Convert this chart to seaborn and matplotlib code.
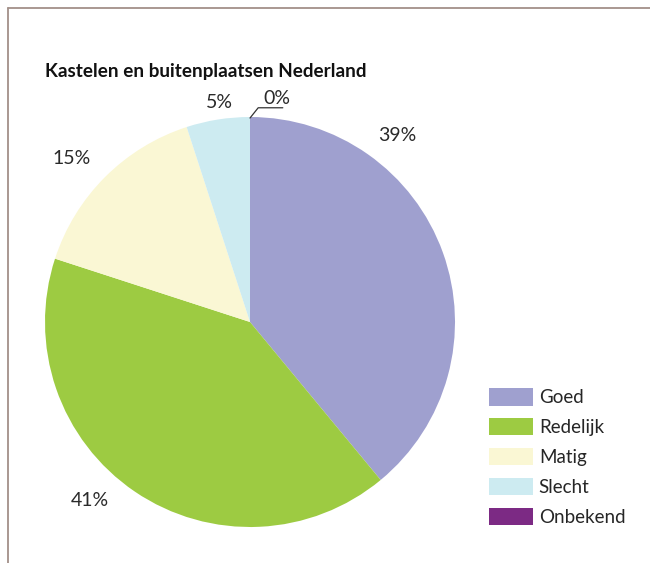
import matplotlib
matplotlib.use("Agg")
import matplotlib.pyplot as plt
from matplotlib.lines import Line2D
import seaborn as sns

# data
categories = ["Goed", "Redelijk", "Matig", "Slecht", "Onbekend"]
values = [39, 41, 15, 5, 0]
pct_labels = ["39%", "41%", "15%", "5%", "0%"]
colors = ["#9fa0cf", "#9dcb42", "#faf7d4", "#cdebf1", "#7c2a84"]

# label spots around the pie (pie radius = 1)
label_pos = [(0.72, 0.91), (-0.78, -0.87), (-0.87, 0.80), (-0.15, 1.07), (0.13, 1.09)]

sns.set_theme(style="white")
plt.rcParams["font.family"] = ["Lato", "DejaVu Sans"]

fig = plt.figure(figsize=(6.5, 5.63), dpi=100)

# frame lines (left + top)
fig.add_artist(Line2D([8 / 650, 8 / 650], [0, 1 - 8 / 563], color="#a39089", lw=1.3))
fig.add_artist(Line2D([8 / 650, 1], [1 - 8 / 563, 1 - 8 / 563], color="#a39089", lw=1.3))

fig.text(45 / 650, 1 - 71 / 563, "Kastelen en buitenplaatsen Nederland",
         fontsize=13.6, fontweight="bold", color="#111111", va="center", ha="left")

ax = fig.add_axes([45 / 650, 36 / 563, 410 / 650, 410 / 563])
wedges, _ = ax.pie(values, colors=colors, startangle=90, counterclock=False,
                   radius=1, wedgeprops=dict(linewidth=0))
ax.set_xlim(-1, 1)
ax.set_ylim(-1, 1)
ax.axis("off")

for (x, y), lab in zip(label_pos, pct_labels):
    ax.text(x, y, lab, ha="center", va="center", fontsize=14,
            fontweight="normal", color="#2a2a2a", clip_on=False)

# leader line for the 0% slice
ax.plot([0, 0.04, 0.16], [0.995, 1.045, 1.045], color="#333333", lw=0.9, clip_on=False)

handles = [plt.Rectangle((0, 0), 1, 1, facecolor=c, edgecolor="none") for c in colors]
fig.legend(handles, categories, loc="upper left", bbox_to_anchor=(476 / 650, 1 - 375 / 563),
           frameon=False, fontsize=13.5, handlelength=2.35, handleheight=1.05,
           labelspacing=0.63, handletextpad=0.3, borderpad=0.2)

fig.savefig("out.png", dpi=100)
